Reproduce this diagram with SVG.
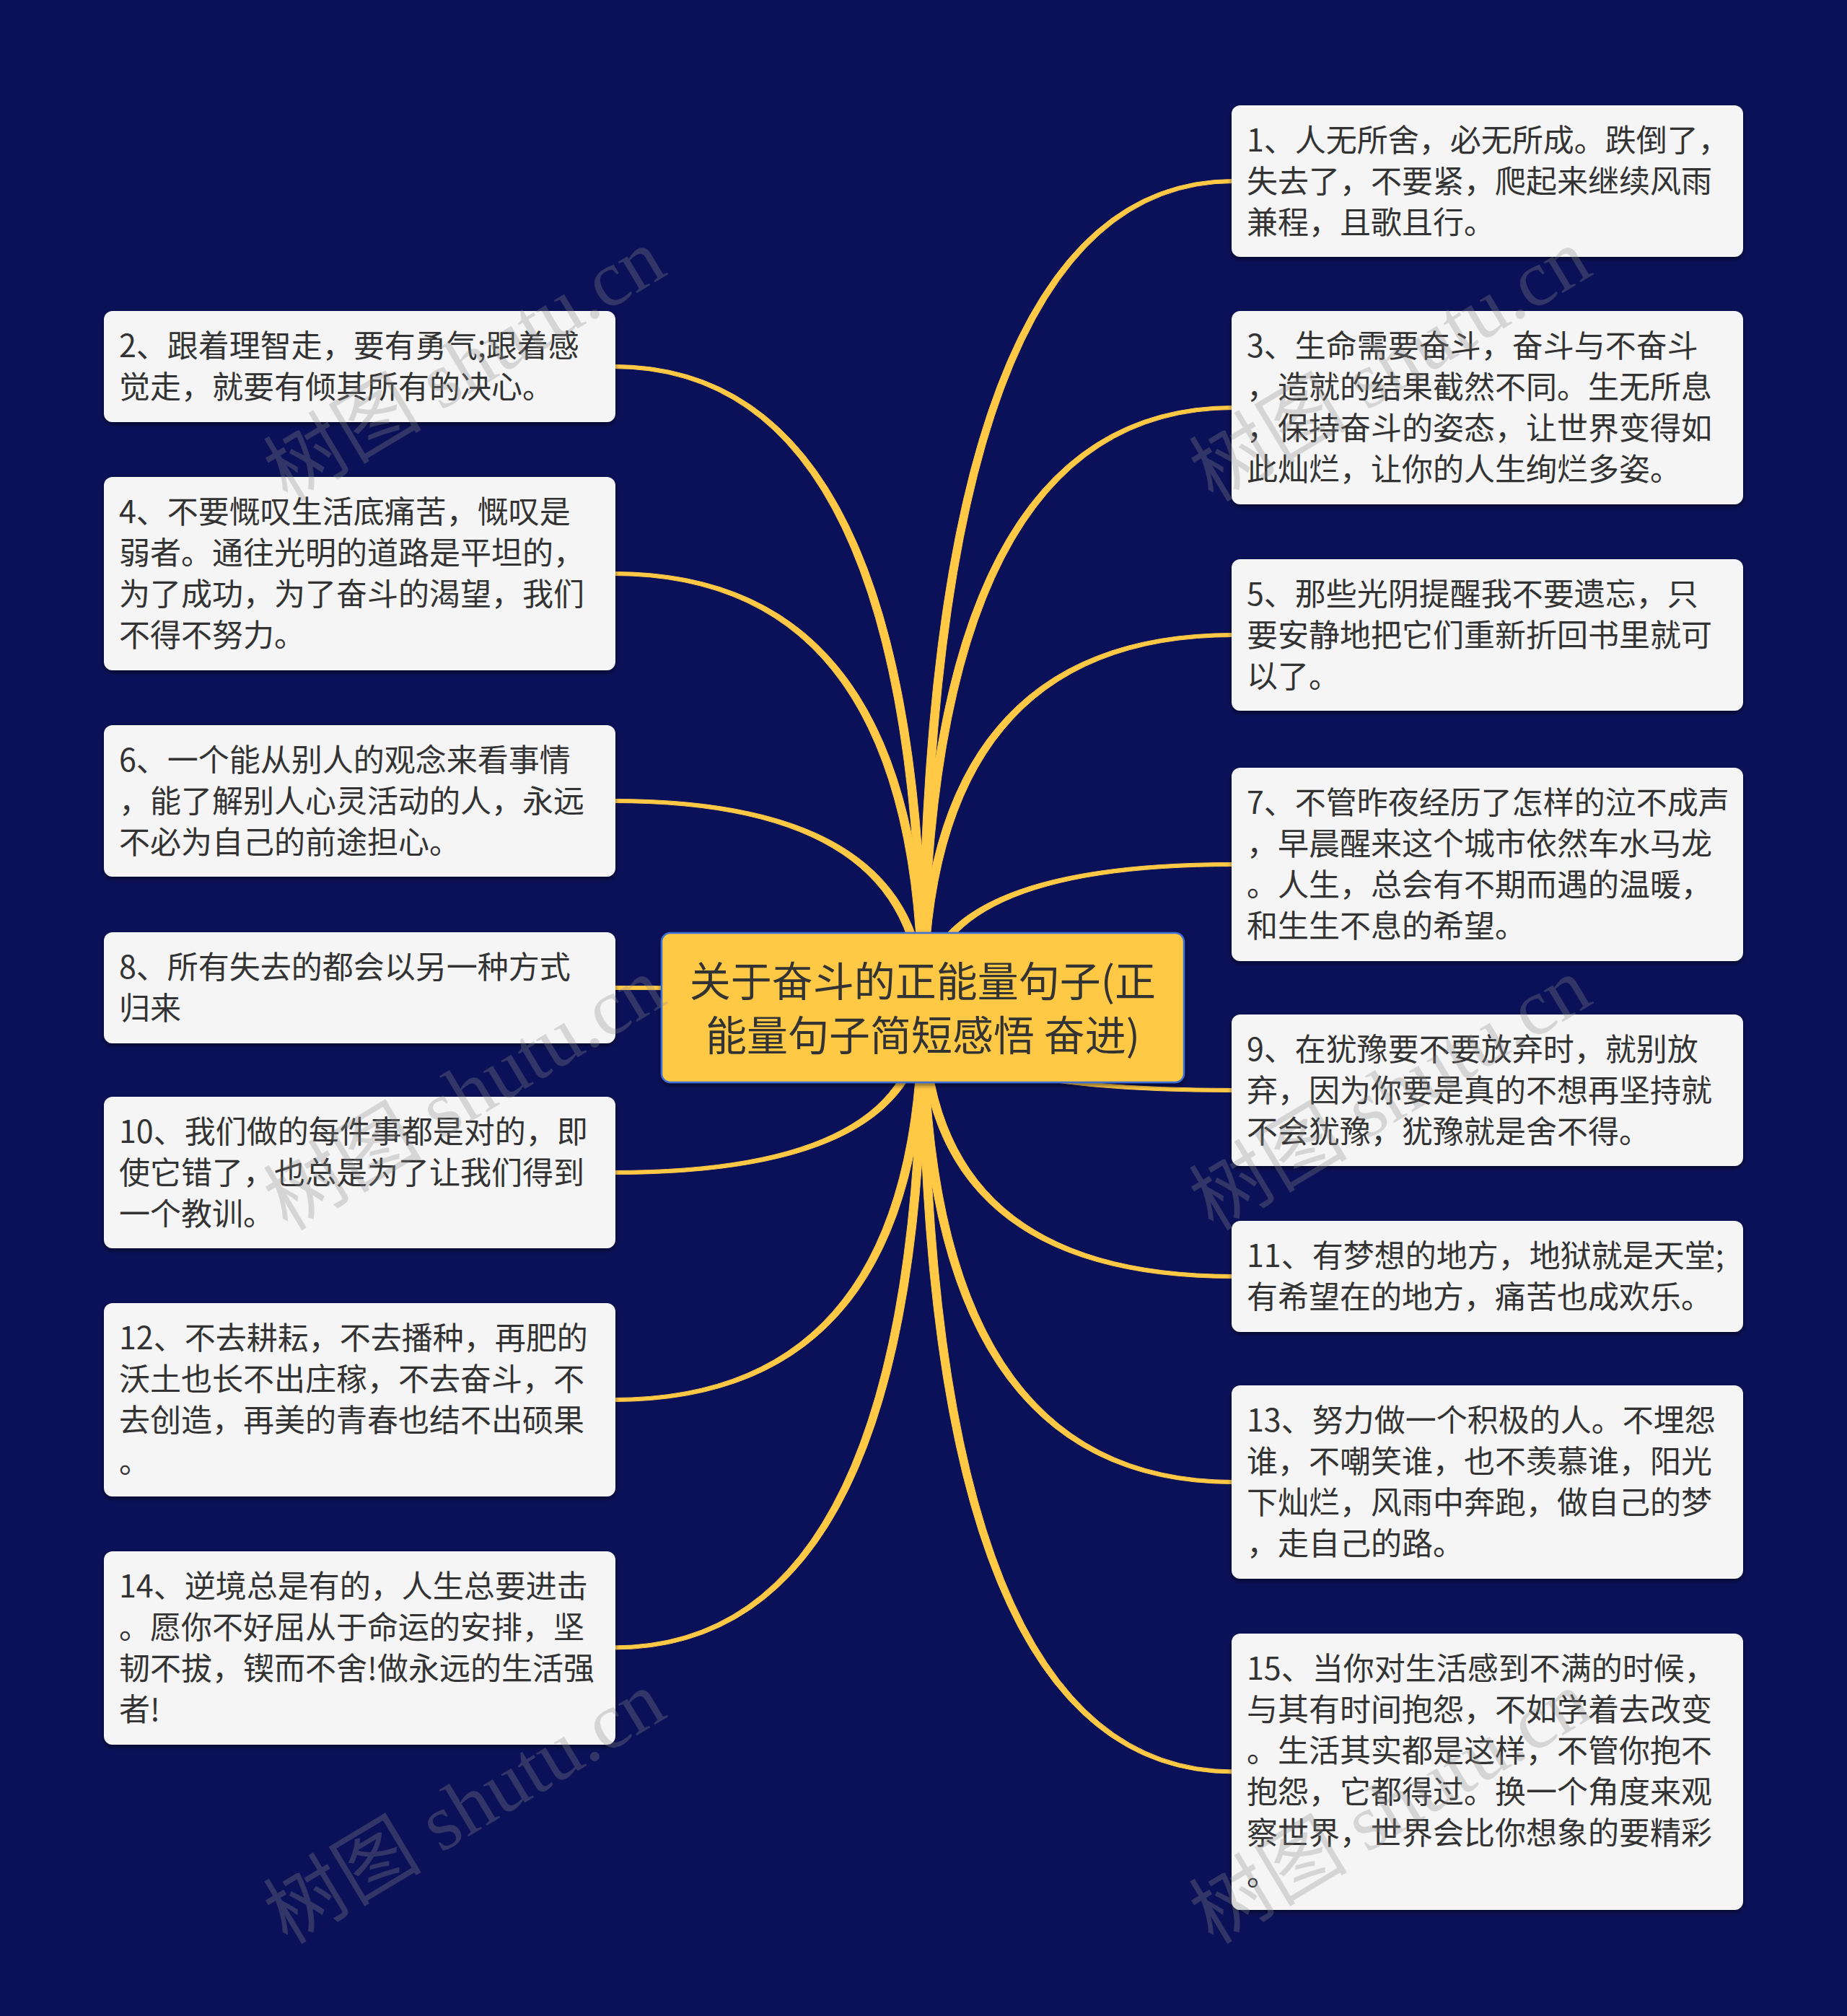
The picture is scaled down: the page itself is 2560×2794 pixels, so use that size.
<svg xmlns="http://www.w3.org/2000/svg" width="2560" height="2794" viewBox="0 0 2560 2794">
<defs>
<filter id="sh" x="-5%" y="-10%" width="110%" height="125%">
<feDropShadow dx="0" dy="3" stdDeviation="3" flood-color="#000" flood-opacity="0.55"/>
</filter>
<style>
.leaf rect{fill:#F5F5F5;filter:url(#sh)}
.leaf text{font-family:"Noto Sans CJK SC","Noto Sans",sans-serif;font-size:43px;fill:#333333}
.root rect{fill:#FFC845;stroke:#3D6FD6;stroke-width:2.5;filter:url(#sh)}
.root text{font-family:"Noto Sans CJK SC","Noto Sans",sans-serif;font-size:57px;fill:#333333;text-anchor:middle}
.conn path{fill:#FFC845;stroke:#FFC845;stroke-width:1}
.wm text{font-family:"Liberation Serif","Noto Sans CJK SC",serif;font-size:110px;fill:#8a8a8a;fill-opacity:0.3}
</style>
</defs>
<rect width="2560" height="2794" fill="#0B1158"/>
<g id="connectors" class="conn">
<path d="M1273,1396 Q1273,248.5 1710,248.5 L1710,253.5 Q1285,253.5 1285,1396Z"/>
<path d="M1273,1396 Q1273,562.5 1710,562.5 L1710,567.5 Q1285,567.5 1285,1396Z"/>
<path d="M1273,1396 Q1273,877.5 1710,877.5 L1710,882.5 Q1285,882.5 1285,1396Z"/>
<path d="M1273,1396 Q1273,1195.5 1710,1195.5 L1710,1200.5 Q1285,1200.5 1285,1396Z"/>
<path d="M1273,1396 Q1273,1513.5 1710,1513.5 L1710,1508.5 Q1285,1508.5 1285,1396Z"/>
<path d="M1273,1396 Q1273,1771.5 1710,1771.5 L1710,1766.5 Q1285,1766.5 1285,1396Z"/>
<path d="M1273,1396 Q1273,2056.5 1710,2056.5 L1710,2051.5 Q1285,2051.5 1285,1396Z"/>
<path d="M1273,1396 Q1273,2458 1710,2458 L1710,2453 Q1285,2453 1285,1396Z"/>
<path d="M1285,1396 Q1285,505.5 850,505.5 L850,510.5 Q1273,510.5 1273,1396Z"/>
<path d="M1285,1396 Q1285,792.5 850,792.5 L850,797.5 Q1273,797.5 1273,1396Z"/>
<path d="M1285,1396 Q1285,1107.5 850,1107.5 L850,1112.5 Q1273,1112.5 1273,1396Z"/>
<path d="M1285,1396 Q1285,1366.5 850,1366.5 L850,1371.5 Q1273,1371.5 1273,1396Z"/>
<path d="M1285,1396 Q1285,1627.5 850,1627.5 L850,1622.5 Q1273,1622.5 1273,1396Z"/>
<path d="M1285,1396 Q1285,1942.5 850,1942.5 L850,1937.5 Q1273,1937.5 1273,1396Z"/>
<path d="M1285,1396 Q1285,2286 850,2286 L850,2281 Q1273,2281 1273,1396Z"/>
</g>
<g id="root" class="root">
<rect x="917" y="1293" width="724" height="207" rx="12"/>
<text><tspan x="1279" y="1381">关于奋斗的正能量句子(正</tspan><tspan x="1279" y="1456">能量句子简短感悟 奋进)</tspan></text>
</g>
<g id="n1" class="leaf">
<rect x="1707" y="146" width="709" height="210" rx="12"/>
<text><tspan x="1728" y="210">1、人无所舍，必无所成。跌倒了，</tspan><tspan x="1728" y="267">失去了，不要紧，爬起来继续风雨</tspan><tspan x="1728" y="324">兼程，且歌且行。</tspan></text>
</g>
<g id="n3" class="leaf">
<rect x="1707" y="431" width="709" height="268" rx="12"/>
<text><tspan x="1728" y="495">3、生命需要奋斗，奋斗与不奋斗</tspan><tspan x="1728" y="552">，造就的结果截然不同。生无所息</tspan><tspan x="1728" y="609">，保持奋斗的姿态，让世界变得如</tspan><tspan x="1728" y="666">此灿烂，让你的人生绚烂多姿。</tspan></text>
</g>
<g id="n5" class="leaf">
<rect x="1707" y="775" width="709" height="210" rx="12"/>
<text><tspan x="1728" y="839">5、那些光阴提醒我不要遗忘，只</tspan><tspan x="1728" y="896">要安静地把它们重新折回书里就可</tspan><tspan x="1728" y="953">以了。</tspan></text>
</g>
<g id="n7" class="leaf">
<rect x="1707" y="1064" width="709" height="268" rx="12"/>
<text><tspan x="1728" y="1128">7、不管昨夜经历了怎样的泣不成声</tspan><tspan x="1728" y="1185">，早晨醒来这个城市依然车水马龙</tspan><tspan x="1728" y="1242">。人生，总会有不期而遇的温暖，</tspan><tspan x="1728" y="1299">和生生不息的希望。</tspan></text>
</g>
<g id="n9" class="leaf">
<rect x="1707" y="1406" width="709" height="210" rx="12"/>
<text><tspan x="1728" y="1470">9、在犹豫要不要放弃时，就别放</tspan><tspan x="1728" y="1527">弃，因为你要是真的不想再坚持就</tspan><tspan x="1728" y="1584">不会犹豫，犹豫就是舍不得。</tspan></text>
</g>
<g id="n11" class="leaf">
<rect x="1707" y="1692" width="709" height="154" rx="12"/>
<text><tspan x="1728" y="1756">11、有梦想的地方，地狱就是天堂;</tspan><tspan x="1728" y="1813">有希望在的地方，痛苦也成欢乐。</tspan></text>
</g>
<g id="n13" class="leaf">
<rect x="1707" y="1920" width="709" height="268" rx="12"/>
<text><tspan x="1728" y="1984">13、努力做一个积极的人。不埋怨</tspan><tspan x="1728" y="2041">谁，不嘲笑谁，也不羡慕谁，阳光</tspan><tspan x="1728" y="2098">下灿烂，风雨中奔跑，做自己的梦</tspan><tspan x="1728" y="2155">，走自己的路。</tspan></text>
</g>
<g id="n15" class="leaf">
<rect x="1707" y="2264" width="709" height="383" rx="12"/>
<text><tspan x="1728" y="2328">15、当你对生活感到不满的时候，</tspan><tspan x="1728" y="2385">与其有时间抱怨，不如学着去改变</tspan><tspan x="1728" y="2442">。生活其实都是这样，不管你抱不</tspan><tspan x="1728" y="2499">抱怨，它都得过。换一个角度来观</tspan><tspan x="1728" y="2556">察世界，世界会比你想象的要精彩</tspan><tspan x="1728" y="2613">。</tspan></text>
</g>
<g id="n2" class="leaf">
<rect x="144" y="431" width="709" height="154" rx="12"/>
<text><tspan x="165" y="495">2、跟着理智走，要有勇气;跟着感</tspan><tspan x="165" y="552">觉走，就要有倾其所有的决心。</tspan></text>
</g>
<g id="n4" class="leaf">
<rect x="144" y="661" width="709" height="268" rx="12"/>
<text><tspan x="165" y="725">4、不要慨叹生活底痛苦，慨叹是</tspan><tspan x="165" y="782">弱者。通往光明的道路是平坦的，</tspan><tspan x="165" y="839">为了成功，为了奋斗的渴望，我们</tspan><tspan x="165" y="896">不得不努力。</tspan></text>
</g>
<g id="n6" class="leaf">
<rect x="144" y="1005" width="709" height="210" rx="12"/>
<text><tspan x="165" y="1069">6、一个能从别人的观念来看事情</tspan><tspan x="165" y="1126">，能了解别人心灵活动的人，永远</tspan><tspan x="165" y="1183">不必为自己的前途担心。</tspan></text>
</g>
<g id="n8" class="leaf">
<rect x="144" y="1292" width="709" height="154" rx="12"/>
<text><tspan x="165" y="1356">8、所有失去的都会以另一种方式</tspan><tspan x="165" y="1413">归来</tspan></text>
</g>
<g id="n10" class="leaf">
<rect x="144" y="1520" width="709" height="210" rx="12"/>
<text><tspan x="165" y="1584">10、我们做的每件事都是对的，即</tspan><tspan x="165" y="1641">使它错了，也总是为了让我们得到</tspan><tspan x="165" y="1698">一个教训。</tspan></text>
</g>
<g id="n12" class="leaf">
<rect x="144" y="1806" width="709" height="268" rx="12"/>
<text><tspan x="165" y="1870">12、不去耕耘，不去播种，再肥的</tspan><tspan x="165" y="1927">沃土也长不出庄稼，不去奋斗，不</tspan><tspan x="165" y="1984">去创造，再美的青春也结不出硕果</tspan><tspan x="165" y="2041">。</tspan></text>
</g>
<g id="n14" class="leaf">
<rect x="144" y="2150" width="709" height="268" rx="12"/>
<text><tspan x="165" y="2214">14、逆境总是有的，人生总要进击</tspan><tspan x="165" y="2271">。愿你不好屈从于命运的安排，坚</tspan><tspan x="165" y="2328">韧不拔，锲而不舍!做永远的生活强</tspan><tspan x="165" y="2385">者!</tspan></text>
</g>
<g id="watermarks" class="wm">
<text transform="translate(645,508) rotate(-31)" text-anchor="middle" y="35">树图 shutu.cn</text>
<text transform="translate(645,1518) rotate(-31)" text-anchor="middle" y="35">树图 shutu.cn</text>
<text transform="translate(645,2507) rotate(-31)" text-anchor="middle" y="35">树图 shutu.cn</text>
<text transform="translate(1928,508) rotate(-31)" text-anchor="middle" y="35">树图 shutu.cn</text>
<text transform="translate(1928,1518) rotate(-31)" text-anchor="middle" y="35">树图 shutu.cn</text>
<text transform="translate(1928,2507) rotate(-31)" text-anchor="middle" y="35">树图 shutu.cn</text>
</g>
</svg>
